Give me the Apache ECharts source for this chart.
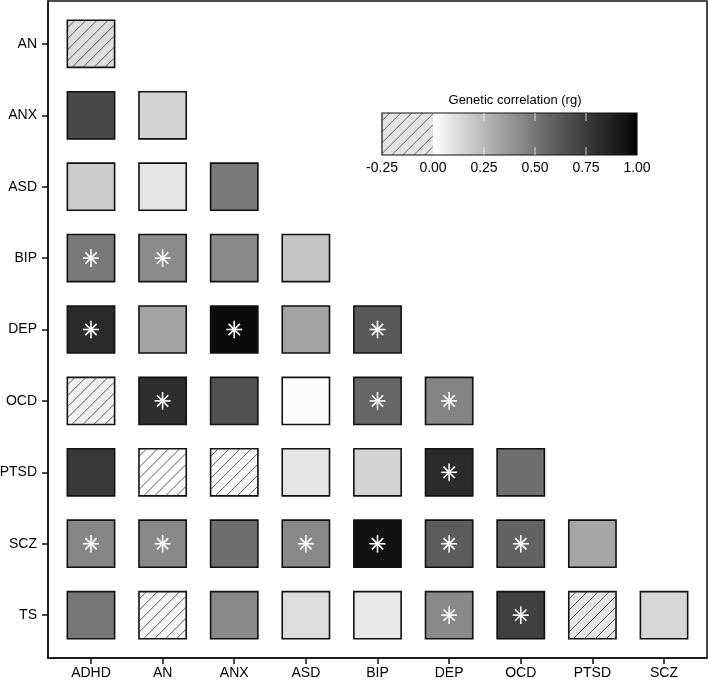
<!DOCTYPE html>
<html>
<head>
<meta charset="utf-8">
<script src="https://cdn.jsdelivr.net/npm/echarts@6/dist/echarts.min.js"></script>
<style>
  html, body { margin: 0; padding: 0; background: #fff; }
  #chart { width: 709px; height: 680px; }
</style>
</head>
<body>
<div id="chart"></div>
<script>
// traits on each axis
const xLabels = ['ADHD', 'AN', 'ANX', 'ASD', 'BIP', 'DEP', 'OCD', 'PTSD', 'SCZ']
const yLabels = ['AN', 'ANX', 'ASD', 'BIP', 'DEP', 'OCD', 'PTSD', 'SCZ', 'TS']

// genetic correlation (rg), lower triangle, one row per yLabel
const rgRows = [
  [-0.12],
  [0.69, 0.15],
  [0.18, 0.09, 0.49],
  [0.49, 0.42, 0.43, 0.21],
  [0.83, 0.33, 0.97, 0.33, 0.62],
  [-0.05, 0.81, 0.66, 0.01, 0.57, 0.45],
  [0.76, -0.01, -0.01, 0.09, 0.15, 0.83, 0.53],
  [0.44, 0.43, 0.53, 0.43, 0.95, 0.61, 0.58, 0.32],
  [0.50, -0.03, 0.43, 0.12, 0.08, 0.43, 0.73, -0.09, 0.14]
]

// significance flags (asterisk), same layout
const sigRows = [
  [0],
  [0, 0],
  [0, 0, 0],
  [1, 1, 0, 0],
  [1, 0, 1, 0, 1],
  [0, 1, 0, 0, 1, 1],
  [0, 0, 0, 0, 0, 1, 0],
  [1, 1, 0, 1, 1, 1, 1, 0],
  [0, 0, 0, 0, 0, 1, 1, 0, 0]
]

// colour bar
const legendMin = -0.25
const legendMax = 1.0
const legendStep = 0.25
const legendMarks = [0.25, 0.5, 0.75]

const cells = []
rgRows.forEach((row, i) => {
  row.forEach((v, j) => {
    cells.push([j + 1, i + 1, v, sigRows[i][j]])
  })
})

// white -> black, interpolated in L* like ggplot does
function grayFor(v) {
  const L = 100 * (1 - Math.min(1, Math.abs(v)))
  const fy = (L + 16) / 116
  const Y = L > 8 ? fy * fy * fy : L / 903.3
  const s = Y <= 0.0031308 ? 12.92 * Y : 1.055 * Math.pow(Y, 1 / 2.4) - 0.055
  const g = Math.max(0, Math.min(255, Math.round(255 * s)))
  return 'rgb(' + g + ',' + g + ',' + g + ')'
}

function hatchLines(x0, y0, w, h, step, color) {
  const out = []
  for (let c = step * 0.7; c < w + h; c += step) {
    const xa = Math.max(0, c - h)
    const xb = Math.min(w, c)
    out.push({
      type: 'line',
      shape: { x1: x0 + xa, y1: y0 + c - xa, x2: x0 + xb, y2: y0 + c - xb },
      style: { stroke: color, lineWidth: 0.8 },
      silent: true
    })
  }
  return out
}

function asterisk(cx, cy, r) {
  const out = []
  for (let k = 0; k < 4; k++) {
    const a = k * Math.PI / 4
    const dx = Math.cos(a) * r
    const dy = Math.sin(a) * r * (k === 2 ? 1.1 : 1)
    out.push({
      type: 'line',
      shape: { x1: cx - dx, y1: cy - dy, x2: cx + dx, y2: cy + dy },
      style: { stroke: '#fff', lineWidth: 1.6 },
      silent: true
    })
  }
  return out
}

function renderCell(params, api) {
  const c = api.coord([api.value(0), api.value(1)])
  const sz = api.size([0.66, 0.66])
  const w = Math.abs(sz[0]), h = Math.abs(sz[1])
  const x0 = c[0] - w / 2, y0 = c[1] - h / 2
  const v = api.value(2)
  const children = [{
    type: 'rect',
    shape: { x: x0, y: y0, width: w, height: h },
    style: { fill: grayFor(v), stroke: '#111', lineWidth: 1.6 }
  }]
  if (v < 0) children.push(...hatchLines(x0, y0, w, h, 11, '#333'))
  if (api.value(3)) children.push(...asterisk(c[0], c[1], 8))
  return { type: 'group', children }
}

function renderLegend(params, api) {
  const kind = api.value(2)
  const p0 = api.coord([api.value(0), 1])
  const p1 = api.coord([api.value(1), 0])
  const x0 = p0[0], y0 = p0[1], w = p1[0] - p0[0], h = p1[1] - p0[1]
  if (kind === 0) {
    return {
      type: 'group',
      children: [{ type: 'rect', shape: { x: x0, y: y0, width: w, height: h }, style: { fill: '#e4e4e4' } }]
        .concat(hatchLines(x0, y0, w, h, 11, '#444'))
    }
  }
  if (kind === 1) {
    const stops = []
    for (let k = 0; k <= 20; k++) stops.push({ offset: k / 20, color: grayFor(k / 20) })
    return {
      type: 'rect',
      shape: { x: x0, y: y0, width: w, height: h },
      style: { fill: new echarts.graphic.LinearGradient(0, 0, 1, 0, stops) }
    }
  }
  return {
    type: 'rect',
    shape: { x: x0, y: y0, width: w, height: h },
    style: { fill: null, stroke: '#111', lineWidth: 1.2 }
  }
}

function renderMark(params, api) {
  const top = api.coord([api.value(0), 1])
  const bot = api.coord([api.value(0), 0])
  const lineStyle = { stroke: 'rgba(255,255,255,0.75)', lineWidth: 1 }
  return {
    type: 'group',
    children: [
      { type: 'line', shape: { x1: top[0], y1: top[1], x2: top[0], y2: top[1] + 8 }, style: lineStyle },
      { type: 'line', shape: { x1: bot[0], y1: bot[1], x2: bot[0], y2: bot[1] - 8 }, style: lineStyle }
    ]
  }
}

const chart = echarts.init(document.getElementById('chart'))
const tickValues = xLabels.map((_, i) => i + 1)
const labelFont = { color: '#000', fontSize: 14, fontFamily: 'Liberation Sans, Arial, sans-serif' }

chart.setOption({
  animation: false,
  title: {
    text: 'Genetic correlation (rg)',
    left: 510,
    top: 89,
    textAlign: 'center',
    textStyle: { color: '#000', fontSize: 13, fontWeight: 'normal', fontFamily: 'Liberation Sans, Arial, sans-serif' }
  },
  grid: [
    {
      left: 48, right: 2, top: 1, bottom: 22, outerBoundsMode: 'none', containLabel: false,
      show: true, borderColor: '#111', borderWidth: 1.5, backgroundColor: 'transparent'
    },
    { left: 382, right: 72, top: 113, height: 42, outerBoundsMode: 'none', containLabel: false }
  ],
  xAxis: [
    {
      type: 'value', gridIndex: 0, min: 0.4, max: 9.6,
      splitLine: { show: false },
      axisLine: { lineStyle: { color: '#111', width: 1.5 } },
      axisTick: { customValues: tickValues, length: 6, lineStyle: { color: '#111', width: 1.5 } },
      axisLabel: Object.assign({ customValues: tickValues, margin: 8, formatter: v => xLabels[Math.round(v) - 1] }, labelFont)
    },
    {
      type: 'value', gridIndex: 1, min: legendMin, max: legendMax, interval: legendStep,
      splitLine: { show: false }, axisLine: { show: false }, axisTick: { show: false },
      axisLabel: Object.assign({ margin: 6, formatter: v => v.toFixed(2) }, labelFont)
    }
  ],
  yAxis: [
    {
      type: 'value', gridIndex: 0, min: 0.4, max: 9.6, inverse: true,
      splitLine: { show: false },
      axisLine: { lineStyle: { color: '#111', width: 1.5 } },
      axisTick: { customValues: tickValues, length: 6, lineStyle: { color: '#111', width: 1.5 } },
      axisLabel: Object.assign({ customValues: tickValues, margin: 11, formatter: v => yLabels[Math.round(v) - 1] }, labelFont)
    },
    { type: 'value', gridIndex: 1, min: 0, max: 1, show: false }
  ],
  series: [
    {
      type: 'custom', xAxisIndex: 0, yAxisIndex: 0,
      renderItem: renderCell,
      data: cells
    },
    {
      type: 'custom', xAxisIndex: 1, yAxisIndex: 1,
      renderItem: renderLegend,
      data: [[legendMin, 0, 0], [0, legendMax, 1], [legendMin, legendMax, 2]]
    },
    {
      type: 'custom', xAxisIndex: 1, yAxisIndex: 1,
      renderItem: renderMark,
      data: legendMarks.map(m => [m])
    }
  ]
})
window.addEventListener('resize', chart.resize)
</script>
</body>
</html>
